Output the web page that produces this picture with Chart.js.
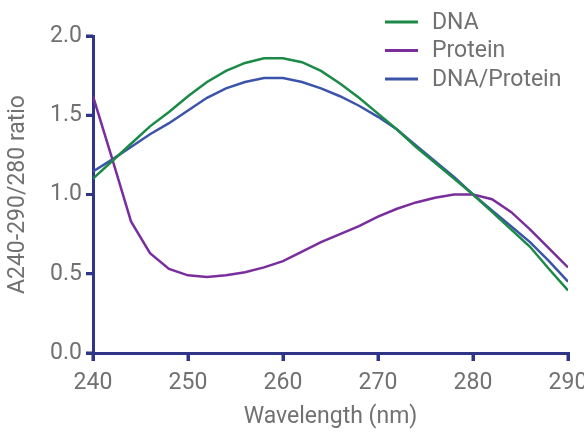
<!DOCTYPE html>
<html>
<head>
<meta charset="utf-8">
<script src="https://cdn.jsdelivr.net/npm/chart.js@4"></script>
<style>
  body { margin: 0; background: #fff; }
</style>
</head>
<body>
<canvas id="ratioChart" width="584" height="435"></canvas>
<script>
// wavelengths sampled every 2 nm
const wavelengths = [240, 242, 244, 246, 248, 250, 252, 254, 256, 258, 260, 262, 264, 266, 268, 270, 272, 274, 276, 278, 280, 282, 284, 286, 288, 290];
const dnaRatio = [1.10, 1.21, 1.32, 1.43, 1.52, 1.62, 1.71, 1.78, 1.83, 1.86, 1.86, 1.835, 1.78, 1.70, 1.61, 1.51, 1.41, 1.30, 1.20, 1.10, 1.00, 0.89, 0.78, 0.67, 0.53, 0.395];
const proteinRatio = [1.62, 1.23, 0.83, 0.63, 0.53, 0.49, 0.48, 0.49, 0.51, 0.54, 0.58, 0.64, 0.70, 0.75, 0.80, 0.86, 0.91, 0.95, 0.98, 1.00, 1.00, 0.97, 0.89, 0.78, 0.66, 0.54];
const mixRatio = [1.145, 1.22, 1.30, 1.38, 1.45, 1.53, 1.61, 1.67, 1.71, 1.735, 1.735, 1.71, 1.67, 1.62, 1.56, 1.49, 1.41, 1.31, 1.21, 1.11, 1.00, 0.90, 0.80, 0.70, 0.58, 0.45];
const yTicks = [0, 0.5, 1.0, 1.5, 2.0];
const xTicks = [240, 250, 260, 270, 280, 290];

const axisColor = '#2f3687';
const textColor = '#717171';
const fontFamily = 'Roboto, sans-serif';
const fontSize = 23;

function points(values) {
    return wavelengths.map((w, i) => ({ x: w, y: values[i] }));
}

// short tick marks sticking out of both axes
const axisTicks = {
    id: 'axisTicks',
    afterDraw(chart) {
        const ctx = chart.ctx;
        const xs = chart.scales.x, ys = chart.scales.y;
        const area = chart.chartArea;
        ctx.save();
        ctx.strokeStyle = axisColor;
        ctx.lineWidth = 3;
        ctx.beginPath();
        xTicks.forEach(v => {
            const px = xs.getPixelForValue(v);
            ctx.moveTo(px, area.bottom);
            ctx.lineTo(px, area.bottom + 8);
        });
        yTicks.forEach(v => {
            const py = ys.getPixelForValue(v);
            ctx.moveTo(area.left, py);
            ctx.lineTo(area.left - 7, py);
        });
        ctx.stroke();
        ctx.restore();
    }
};

// legend drawn as a vertical stack in the upper right
const stackedLegend = {
    id: 'stackedLegend',
    afterDraw(chart) {
        const ctx = chart.ctx;
        ctx.save();
        ctx.font = fontSize + 'px ' + fontFamily;
        ctx.textBaseline = 'middle';
        chart.data.datasets.forEach((ds, i) => {
            const y = 22 + i * 28.5;
            ctx.strokeStyle = ds.borderColor;
            ctx.lineWidth = 3;
            ctx.beginPath();
            ctx.moveTo(385, y);
            ctx.lineTo(418, y);
            ctx.stroke();
            ctx.fillStyle = textColor;
            ctx.fillText(ds.label, 432, y + 1);
        });
        ctx.restore();
    }
};

const ctx = document.getElementById("ratioChart").getContext("2d");
const ratioChart = new Chart(ctx, {
    type: "line",
    data: {
        datasets: [{
            label: "DNA",
            data: points(dnaRatio),
            borderColor: '#1c8a47',
            borderWidth: 2.5,
            pointRadius: 0,
            tension: 0
        }, {
            label: "Protein",
            data: points(proteinRatio),
            borderColor: '#7a2e9d',
            borderWidth: 2.5,
            pointRadius: 0,
            tension: 0
        }, {
            label: "DNA/Protein",
            data: points(mixRatio),
            borderColor: '#3b54aa',
            borderWidth: 2.5,
            pointRadius: 0,
            tension: 0
        }]
    },
    options: {
        responsive: false,
        animation: false,
        layout: {
            padding: { top: 36, right: 16, left: 0, bottom: 0 }
        },
        scales: {
            x: {
                type: 'linear',
                min: 240,
                max: 290,
                afterBuildTicks: (s) => { s.ticks = xTicks.map(v => ({ value: v })); },
                afterFit: (s) => { s.height = 82; s.paddingRight = 0; s.paddingLeft = 0; },
                ticks: {
                    color: textColor,
                    font: { family: fontFamily, size: fontSize },
                    padding: 8,
                    maxRotation: 0
                },
                grid: { drawOnChartArea: false, tickLength: 8, color: axisColor, lineWidth: 3 },
                border: { color: axisColor, width: 3 },
                title: {
                    display: true,
                    text: 'Wavelength (nm)',
                    color: textColor,
                    font: { family: fontFamily, size: fontSize },
                    padding: { top: 18 }
                }
            },
            y: {
                min: 0,
                max: 2,
                afterBuildTicks: (s) => { s.ticks = yTicks.map(v => ({ value: v })); },
                afterFit: (s) => { s.width = 93; s.paddingTop = 0; s.paddingBottom = 0; },
                ticks: {
                    color: textColor,
                    font: { family: fontFamily, size: fontSize },
                    padding: 4,
                    callback: (v) => v.toFixed(1)
                },
                grid: { drawOnChartArea: false, tickLength: 7, color: axisColor, lineWidth: 3 },
                border: { color: axisColor, width: 3 },
                title: {
                    display: true,
                    text: 'A240-290/280 ratio',
                    color: textColor,
                    font: { family: fontFamily, size: fontSize },
                    padding: { bottom: 2 }
                }
            }
        },
        plugins: {
            legend: { display: false },
            tooltip: { enabled: false }
        }
    },
    plugins: [axisTicks, stackedLegend]
});
</script>
</body>
</html>
